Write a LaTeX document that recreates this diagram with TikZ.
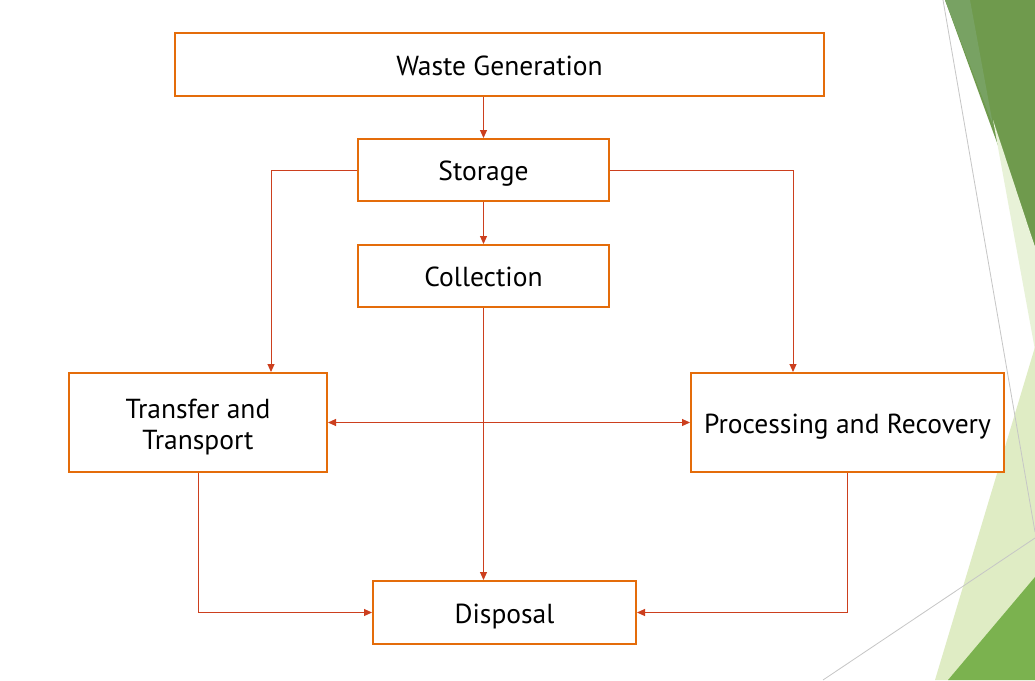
\documentclass[tikz,border=0pt]{standalone}
\usepackage{fontspec}
\setmainfont{PT Sans}
\usetikzlibrary{arrows.meta,positioning}
\definecolor{BoxOrange}{HTML}{E46C0A}
\definecolor{FlowRed}{HTML}{CC3F1E}
\definecolor{LeafDark}{HTML}{6F9A4D}
\definecolor{LeafStrip}{HTML}{78A263}
\definecolor{LeafPale}{HTML}{DFECC4}
\definecolor{LeafPaler}{HTML}{E8F2D8}
\definecolor{LeafMid}{HTML}{7BB24F}
\definecolor{RuleGray}{HTML}{C6C6C6}

\begin{document}
\begin{tikzpicture}[x=1pt, y=-1pt,
    stage/.style={draw=BoxOrange, line width=2pt, fill=white, align=center, inner sep=0pt,
      text height=23pt, text depth=2pt, font=\fontsize{27.5}{31}\selectfont},
    flow/.style={draw=FlowRed, line width=1pt, -{Triangle[length=8pt,width=7pt]}},
    twoway/.style={draw=FlowRed, line width=1pt, {Triangle[length=8pt,width=7pt]}-{Triangle[length=8pt,width=7pt]}}]
  \useasboundingbox (0,0) rectangle (1035,680);
  \fill[white] (0,0) rectangle (1035,680);
  % Backdrop
  \fill[LeafDark] (945,0) -- (1035,0) -- (1035,247) -- cycle;
  \fill[LeafStrip] (945,0) -- (970,0) -- (993,125) -- cycle;
  \fill[LeafPaler] (993,120) -- (1035,247) -- (1035,350) -- cycle;
  \fill[LeafPale] (1035,347) -- (1035,680) -- (935,680) -- cycle;
  \fill[LeafMid] (1035,577) -- (1035,680) -- (948,680) -- cycle;
  \draw[RuleGray, line width=0.8pt] (943,0) -- (1035,532);
  \draw[RuleGray, line width=0.8pt] (823,680) -- (1035,538);
  % Nodes
  \node[stage, minimum width=649pt, minimum height=63pt] (waste) at (499.5,64.5) {Waste Generation};
  \node[stage, minimum width=251pt, minimum height=62pt] (storage) at (483.5,170) {Storage};
  \node[stage, minimum width=251pt, minimum height=62pt, below=42pt of storage] (collection) {Collection};
  \node[stage, text height=55pt, minimum width=258pt, minimum height=99pt] (transfer) at (198,422.5) {Transfer and\\Transport};
  \node[stage, minimum width=313pt, minimum height=99pt] (processing) at (847.5,422.5) {Processing and Recovery};
  \node[stage, minimum width=263pt, minimum height=63pt] (disposal) at (504.5,612.5) {Disposal};
  % Arrows
  \draw[flow] (storage.north |- waste.south) -- (storage.north);
  \draw[flow] (storage) -- (collection);
  \draw[flow] (storage.west) -| ([xshift=73pt]transfer.north);
  \draw[flow] (storage.east) -| ([xshift=-54.5pt]processing.north);
  \draw[flow] (collection.south) -- (collection.south |- disposal.north);
  \draw[twoway] (transfer.east) -- (processing.west);
  \draw[flow] (transfer.south) |- (disposal.west);
  \draw[flow] (processing.south) |- (disposal.east);
\end{tikzpicture}
\end{document}
